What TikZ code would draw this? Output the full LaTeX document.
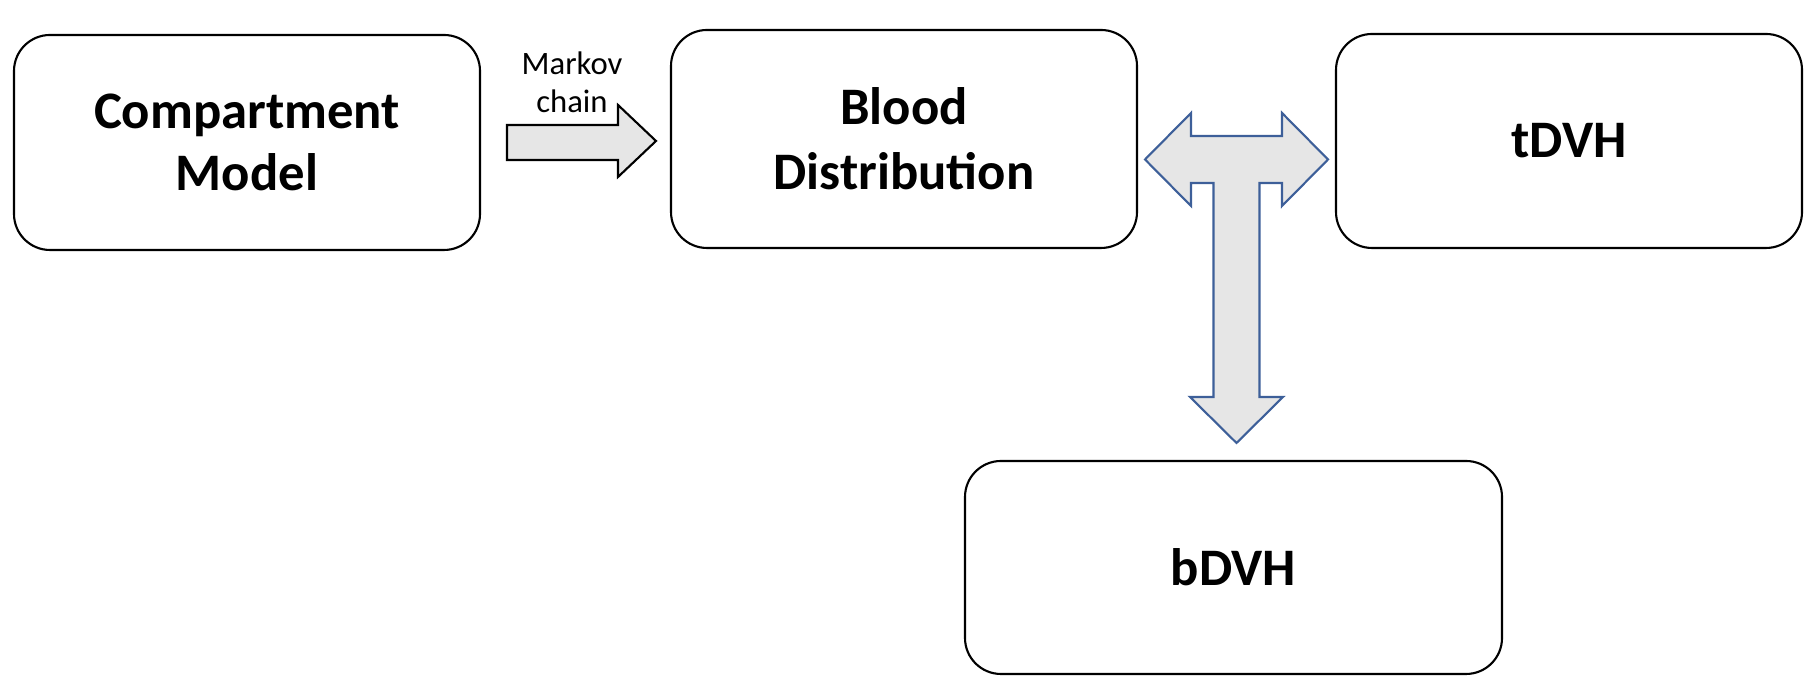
\documentclass[tikz,border=0pt]{standalone}
\usepackage{fontspec}
\setmainfont{Carlito}
\usetikzlibrary{positioning}

\definecolor{arrowfill}{RGB}{230,230,230}
\definecolor{arrowblue}{RGB}{61,95,153}

\begin{document}
\begin{tikzpicture}[
    block/.style={
        draw,
        line width=0.6pt,
        rounded corners=0.36cm,
        minimum width=4.66cm,
        minimum height=2.15cm,
        align=center,
        inner sep=0pt,
        font=\bfseries\fontsize{15}{18.5}\selectfont,
    },
    blockarrow/.style={
        draw,
        line width=0.6pt,
        fill=arrowfill,
        line join=miter,
    },
    note/.style={
        font=\fontsize{9.3}{10.8}\selectfont,
        align=center,
        anchor=south,
        inner sep=0pt,
    }
]
    \useasboundingbox (0,0) rectangle (18.16,6.94);

    % Boxes
    \node[block, font=\bfseries\fontsize{15}{17.4}\selectfont] (compartment) at (2.47,5.515) {Compartment\\Model};
    \node[block, minimum height=2.18cm] (blood) at (9.04,5.55) {Blood\\Distribution};
    \node[block, minimum height=2.14cm] (tdvh) at (15.69,5.53) {tDVH};
    \node[block, minimum width=5.37cm, minimum height=2.13cm] (bdvh) at (12.335,1.265) {bDVH};

    % Markov chain arrow
    \coordinate (markovtail) at (5.07,5.515);
    \draw[blockarrow, shift={(markovtail)}]
        (0,0.175) -- (1.11,0.175) -- (1.11,0.375) -- (1.49,0.015)
        -- (1.11,-0.345) -- (1.11,-0.175) -- (0,-0.175) -- cycle;
    \node[note] (markov) at (5.72,5.81) {Markov\\chain};

    % T-shaped arrow between Blood Distribution, tDVH and bDVH
    \coordinate (hub) at (12.365,5.345);
    \draw[blockarrow, draw=arrowblue, shift={(hub)}]
        (-0.915,0) -- (-0.455,0.465) -- (-0.455,0.235) -- (0.455,0.235)
        -- (0.455,0.465) -- (0.915,0) -- (0.455,-0.465) -- (0.455,-0.235)
        -- (0.23,-0.235) -- (0.23,-2.375) -- (0.465,-2.375) -- (0,-2.835)
        -- (-0.465,-2.375) -- (-0.23,-2.375) -- (-0.23,-0.235)
        -- (-0.455,-0.235) -- (-0.455,-0.465) -- cycle;
\end{tikzpicture}
\end{document}
